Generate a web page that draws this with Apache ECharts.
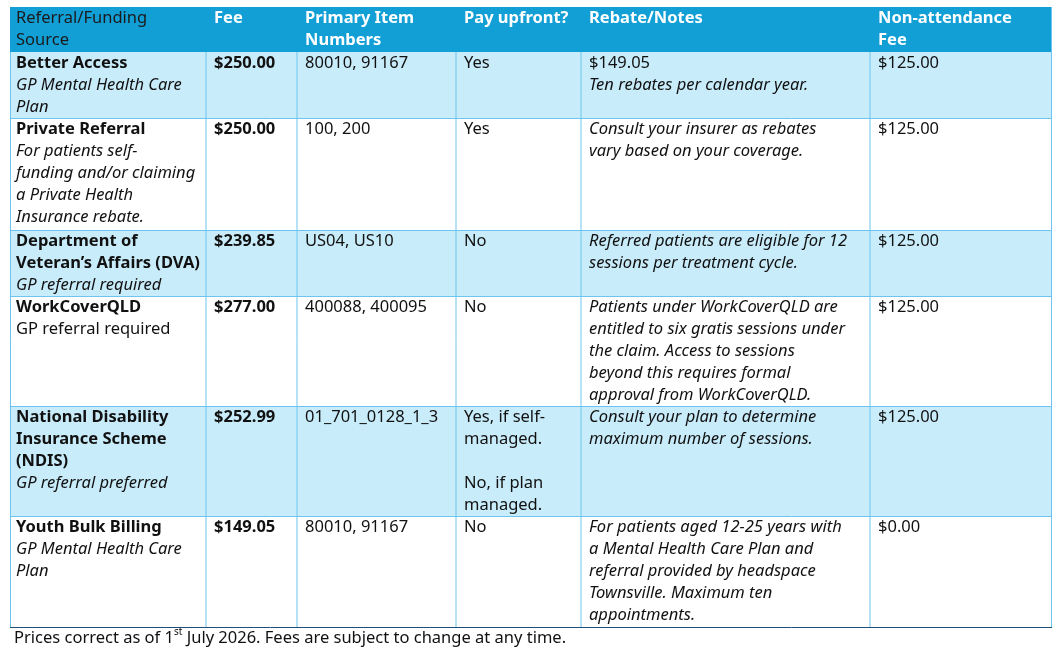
<!DOCTYPE html>
<html><head><meta charset="utf-8">
<script src="https://cdn.jsdelivr.net/npm/echarts@6/dist/echarts.min.js"></script>
<style>html,body{margin:0;padding:0;background:#fff}#c{width:1057px;height:647px}</style>
</head><body><div id="c"></div>
<script>
// Table content: each cell is a list of lines, "b:" bold, "i:" italic, else normal
const headers = [["Referral/Funding","Source"],["Fee"],["Primary Item","Numbers"],["Pay upfront?"],["Rebate/Notes"],["Non-attendance","Fee"]];
const sources = [
  ["b:Better Access","i:GP Mental Health Care","i:Plan"],
  ["b:Private Referral","i:For patients self-","i:funding and/or claiming","i:a Private Health","i:Insurance rebate."],
  ["b:Department of","b:Veteran’s Affairs (DVA)","i:GP referral required"],
  ["b:WorkCoverQLD","GP referral required"],
  ["b:National Disability","b:Insurance Scheme","b:(NDIS)","i:GP referral preferred"],
  ["b:Youth Bulk Billing","i:GP Mental Health Care","i:Plan"]
];
const fees = ["$250.00","$250.00","$239.85","$277.00","$252.99","$149.05"];
const itemNumbers = ["80010, 91167","100, 200","US04, US10","400088, 400095","01_701_0128_1_3","80010, 91167"];
const payUpfront = [["Yes"],["Yes"],["No"],["No"],["Yes, if self-","managed.","","No, if plan","managed."],["No"]];
const notes = [
  ["$149.05","i:Ten rebates per calendar year."],
  ["i:Consult your insurer as rebates","i:vary based on your coverage."],
  ["i:Referred patients are eligible for 12","i:sessions per treatment cycle."],
  ["i:Patients under WorkCoverQLD are","i:entitled to six gratis sessions under","i:the claim. Access to sessions","i:beyond this requires formal","i:approval from WorkCoverQLD."],
  ["i:Consult your plan to determine","i:maximum number of sessions."],
  ["i:For patients aged 12-25 years with","i:a Mental Health Care Plan and","i:referral provided by headspace","i:Townsville. Maximum ten","i:appointments."]
];
const nonAttendance = ["$125.00","$125.00","$125.00","$125.00","$125.00","$0.00"];

const colX = [10,206,297,456,581,870,1052];
const rowY = [7,52,118,230,296,406,516,627];
const FONT = '"Noto Sans", sans-serif';
const FS = 16.5, LH = 22;

function richLines(lines, color, defaultBold){
  return lines.map(l=>{
    let s='n', t=l;
    if(l.startsWith('b:')){s='b';t=l.slice(2);} else if(l.startsWith('i:')){s='i';t=l.slice(2);}
    if(defaultBold && s==='n') s='b';
    if(t==='') t=' ';
    return '{'+s+'|'+t.replace(/[{}|]/g,'')+'}';
  }).join('\n');
}
function richStyle(color){
  return {
    n:{fontFamily:FONT,fontSize:FS,fill:color,lineHeight:LH},
    b:{fontFamily:FONT,fontSize:FS,fill:color,fontWeight:'bold',lineHeight:LH},
    i:{fontFamily:FONT,fontSize:FS,fill:color,fontStyle:'italic',lineHeight:LH},
    sup:{fontFamily:FONT,fontSize:10,fill:color,lineHeight:LH,verticalAlign:'top',padding:[0,0,8,0]}
  };
}
const els = [];
els.push({type:'rect',shape:{x:colX[0],y:rowY[0],width:colX[6]-colX[0],height:rowY[1]-rowY[0]},style:{fill:'#129fd6'}});
for(let r=0;r<6;r++){
  els.push({type:'rect',shape:{x:colX[0],y:rowY[r+1],width:colX[6]-colX[0],height:rowY[r+2]-rowY[r+1]},style:{fill:r%2===0?'#c9ecfa':'#ffffff'}});
}
for(let c=1;c<6;c++) els.push({type:'line',shape:{x1:colX[c],y1:rowY[1],x2:colX[c],y2:rowY[7]},style:{stroke:'#6cc5ee',lineWidth:1}});
els.push({type:'line',shape:{x1:colX[0]+0.5,y1:rowY[1],x2:colX[0]+0.5,y2:rowY[7]},style:{stroke:'#6cc5ee',lineWidth:1}});
els.push({type:'line',shape:{x1:colX[6]-0.5,y1:rowY[0],x2:colX[6]-0.5,y2:rowY[7]},style:{stroke:'#6cc5ee',lineWidth:1}});
for(let r=2;r<7;r++) els.push({type:'line',shape:{x1:colX[0],y1:rowY[r]+0.5,x2:colX[6],y2:rowY[r]+0.5},style:{stroke:'#6cc5ee',lineWidth:1}});
els.push({type:'line',shape:{x1:colX[0],y1:rowY[7]+0.5,x2:colX[6],y2:rowY[7]+0.5},style:{stroke:'#1f4e79',lineWidth:1}});

function cell(c, r0, lines, color, bold){
  els.push({type:'text',x:colX[c]+(c===0?6:8),y:r0,style:{text:richLines(lines,color,bold),rich:richStyle(color),verticalAlign:'top'}});
}
headers.forEach((h,c)=>cell(c,rowY[0],h,c===0?'#1a1a1a':'#ffffff',c!==0));
for(let r=0;r<6;r++){
  const y=rowY[r+1];
  cell(0,y,sources[r],'#111');
  cell(1,y,['b:'+fees[r]],'#111');
  cell(2,y,[itemNumbers[r]],'#111');
  cell(3,y,payUpfront[r],'#111');
  cell(4,y,notes[r],'#111');
  cell(5,y,[nonAttendance[r]],'#111');
}
els.push({type:'text',x:14,y:627,style:{text:'{n|Prices correct as of 1}{sup|st}{n| July 2026. Fees are subject to change at any time.}',rich:richStyle('#111'),verticalAlign:'top'}});

const chart = echarts.init(document.getElementById('c'));
chart.setOption({animation:false,graphic:{elements:els}});
</script></body></html>
